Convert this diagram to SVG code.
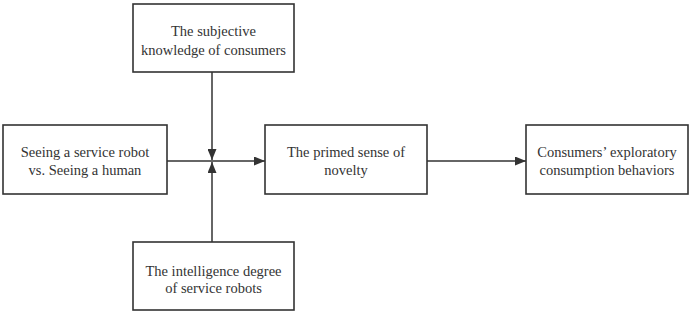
<svg xmlns="http://www.w3.org/2000/svg" width="691" height="317" viewBox="0 0 691 317">
<style>
.box{fill:#fff;stroke:#333;stroke-width:1.6}
.t{font-family:"Liberation Serif","Times New Roman",serif;font-size:14.5px;fill:#333;text-anchor:middle}
.c{stroke:#333;stroke-width:1.5;fill:none}
</style>
<defs>
<marker id="ah" viewBox="0 0 11 9" refX="11" refY="4.5" markerWidth="11" markerHeight="9" markerUnits="userSpaceOnUse" orient="auto">
<path d="M0,0 L11,4.5 L0,9 Z" fill="#333"/>
</marker>
</defs>
<rect width="691" height="317" fill="#fff"/>
<g id="connectors">
<line class="c" x1="167" y1="161" x2="265" y2="161" marker-end="url(#ah)"/>
<line class="c" x1="212" y1="72" x2="212" y2="160" marker-end="url(#ah)"/>
<line class="c" x1="212" y1="242" x2="212" y2="162" marker-end="url(#ah)"/>
<line class="c" x1="427" y1="161" x2="526" y2="161" marker-end="url(#ah)"/>
</g>
<g id="node-knowledge">
<rect class="box" x="133" y="4" width="161" height="68"/>
<text class="t" x="213.5" y="36">The subjective</text>
<text class="t" x="213.5" y="54.5">knowledge of consumers</text>
</g>
<g id="node-seeing">
<rect class="box" x="3" y="125" width="164" height="69"/>
<text class="t" x="85" y="157">Seeing a service robot</text>
<text class="t" x="85" y="174.5">vs. Seeing a human</text>
</g>
<g id="node-novelty">
<rect class="box" x="265" y="125" width="162" height="69"/>
<text class="t" x="346" y="157">The primed sense of</text>
<text class="t" x="346" y="174.5">novelty</text>
</g>
<g id="node-behaviors">
<rect class="box" x="526" y="125" width="162" height="69"/>
<text class="t" x="607" y="157">Consumers’ exploratory</text>
<text class="t" x="607" y="174.5">consumption behaviors</text>
</g>
<g id="node-intelligence">
<rect class="box" x="133" y="242" width="161" height="68"/>
<text class="t" x="213.5" y="275.5">The intelligence degree</text>
<text class="t" x="213.5" y="293">of service robots</text>
</g>
</svg>
